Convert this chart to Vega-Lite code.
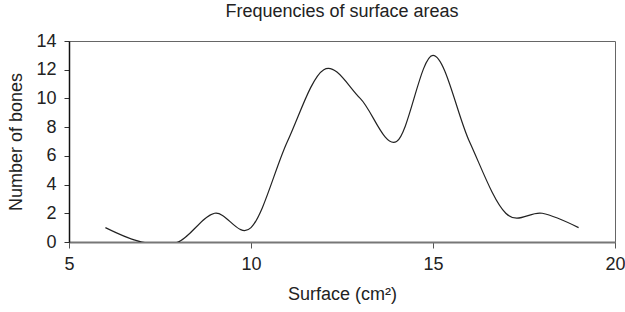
{
  "$schema": "https://vega.github.io/schema/vega-lite/v6.json",
  "autosize": "none",
  "width": 546,
  "height": 201,
  "padding": {"left": 69, "top": 41, "right": 10, "bottom": 70},
  "background": "white",
  "title": {
    "text": "Frequencies of surface areas",
    "font": "Liberation Sans",
    "fontSize": 18,
    "fontWeight": "normal",
    "color": "#222",
    "anchor": "middle",
    "offset": 11
  },
  "config": {
    "view": {"stroke": "#666", "strokeWidth": 1},
    "axis": {
      "labelFont": "Liberation Sans",
      "titleFont": "Liberation Sans",
      "labelFontSize": 18,
      "titleFontSize": 18,
      "titleFontWeight": "normal",
      "labelColor": "#222",
      "titleColor": "#222",
      "grid": false
    }
  },
  "data": {
    "values": [
      {"surface": 6, "bones": 1},
      {"surface": 7, "bones": 0},
      {"surface": 8, "bones": 0},
      {"surface": 9, "bones": 2},
      {"surface": 10, "bones": 1},
      {"surface": 11, "bones": 7},
      {"surface": 12, "bones": 12},
      {"surface": 13, "bones": 10},
      {"surface": 14, "bones": 7},
      {"surface": 15, "bones": 13},
      {"surface": 16, "bones": 7},
      {"surface": 17, "bones": 2},
      {"surface": 18, "bones": 2},
      {"surface": 19, "bones": 1}
    ]
  },
  "mark": {"type": "line", "interpolate": "cardinal", "tension": 0, "color": "#222", "strokeWidth": 1.2, "clip": true},
  "encoding": {
    "x": {
      "field": "surface",
      "type": "quantitative",
      "title": "Surface (cm²)",
      "scale": {"domain": [5, 20], "nice": false, "zero": false},
      "axis": {
        "values": [5, 10, 15, 20],
        "domainColor": "#777",
        "domainWidth": 2,
        "tickColor": "#555",
        "tickSize": 6,
        "labelPadding": 7,
        "titlePadding": 12,
        "labelFlush": false
      }
    },
    "y": {
      "field": "bones",
      "type": "quantitative",
      "title": "Number of bones",
      "scale": {"domain": [0, 14], "nice": false},
      "axis": {
        "values": [0, 2, 4, 6, 8, 10, 12, 14],
        "domainColor": "#111",
        "domainWidth": 1.5,
        "tickColor": "#333",
        "tickSize": 5,
        "labelPadding": 8,
        "titlePadding": 10,
        "labelFlush": false
      }
    }
  }
}
